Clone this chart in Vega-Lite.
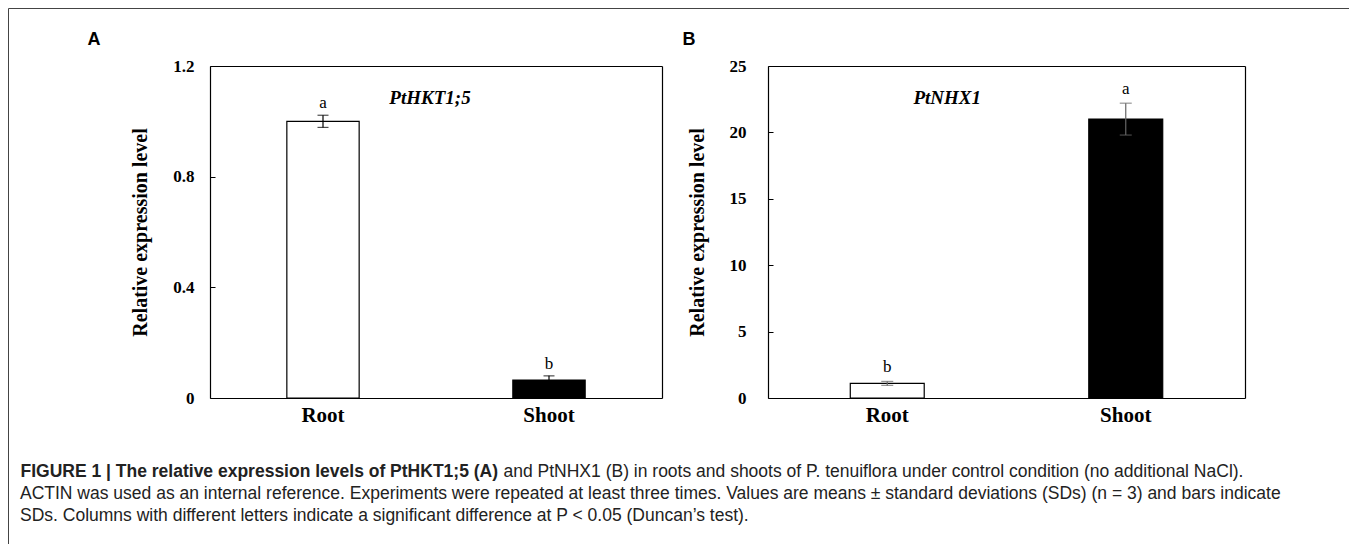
{
  "$schema": "https://vega.github.io/schema/vega-lite/v6.json",
  "padding": {"left": 8, "top": 8, "right": 0, "bottom": 0},
  "background": "white",
  "width": 1341,
  "height": 540,
  "view": {"stroke": "#444", "strokeWidth": 1},
  "title": {
    "text": [
      "ACTIN was used as an internal reference. Experiments were repeated at least three times. Values are means ± standard deviations (SDs) (n = 3) and bars indicate",
      "SDs. Columns with different letters indicate a significant difference at P < 0.05 (Duncan’s test)."
    ],
    "orient": "bottom",
    "anchor": "start",
    "frame": "group",
    "dx": 12,
    "offset": -63.5,
    "baseline": "top",
    "font": "Liberation Sans",
    "fontSize": 17.5,
    "fontWeight": "normal",
    "lineHeight": 22.5,
    "color": "#222"
  },
  "config": {
    "axis": {
      "labelFont": "Liberation Serif", "labelFontWeight": "bold", "labelColor": "black",
      "titleFont": "Liberation Serif", "titleFontWeight": "bold", "titleColor": "black",
      "domainColor": "black", "domainWidth": 1.2, "tickColor": "black", "grid": false
    }
  },
  "resolve": {"scale": {"x": "independent", "y": "independent"}, "axis": {"x": "independent", "y": "independent"}},
  "layer": [
    {
      "data": {"values": [
        {"tissue": "Root", "mean": 1.0, "sd": 0.022, "letter": "a"},
        {"tissue": "Shoot", "mean": 0.065, "sd": 0.015, "letter": "b"}
      ]},
      "encoding": {
        "x": {"field": "tissue", "type": "nominal", "sort": ["Root", "Shoot"],
          "scale": {"type": "band", "range": [202, 654], "paddingInner": 0.68, "paddingOuter": 0.34},
          "axis": {"orient": "bottom", "offset": -150, "title": null, "labelAngle": 0, "ticks": false, "labelPadding": 6, "labelFontSize": 21}}
      },
      "layer": [
        {
          "mark": {"type": "bar", "stroke": "black", "strokeWidth": 1.2},
          "encoding": {
            "y": {"field": "mean", "type": "quantitative", "title": "Relative expression level",
              "scale": {"domain": [0, 1.2], "nice": false, "range": [390, 58]},
              "axis": {"orient": "left", "offset": -202, "values": [0, 0.4, 0.8, 1.2], "format": ".1~f",
                "tickSize": -5, "labelPadding": 21, "labelFontSize": 17, "titleFontSize": 20, "titlePadding": 22}},
            "fill": {"field": "tissue", "type": "nominal", "scale": {"domain": ["Root", "Shoot"], "range": ["white", "black"]}, "legend": null}
          }
        },
        {
          "mark": {"type": "errorbar", "color": "black", "thickness": 1.2, "ticks": {"size": 11, "thickness": 1.2}},
          "encoding": {
            "y": {"field": "mean", "type": "quantitative", "title": "Relative expression level", "scale": {"domain": [0, 1.2], "nice": false, "range": [390, 58]}},
            "yError": {"field": "sd"}
          }
        },
        {
          "transform": [
            {"fold": ["mean", "sd"], "as": ["key", "val"]},
            {"aggregate": [{"op": "sum", "field": "val", "as": "top"}], "groupby": ["tissue", "letter"]}
          ],
          "mark": {"type": "text", "font": "Liberation Serif", "fontSize": 17, "baseline": "alphabetic", "dy": -7, "color": "black"},
          "encoding": {
            "y": {"field": "top", "type": "quantitative", "title": "Relative expression level", "scale": {"domain": [0, 1.2], "nice": false, "range": [390, 58]}},
            "text": {"field": "letter"}
          }
        },
        {
          "data": {"values": [{"gene": "PtHKT1;5"}]},
          "mark": {"type": "text", "font": "Liberation Serif", "fontSize": 19, "fontWeight": "bold", "fontStyle": "italic", "baseline": "middle", "dx": 107, "color": "black"},
          "encoding": {
            "x": {"datum": "Root"},
            "y": {"datum": 1.084, "title": "Relative expression level", "scale": {"domain": [0, 1.2], "nice": false, "range": [390, 58]}},
            "text": {"field": "gene"}
          }
        }
      ]
    },
    {
      "data": {"values": [{"edge": "box"}]},
      "mark": {"type": "point", "opacity": 0, "size": 0},
      "encoding": {
        "x": {"field": "edge", "type": "nominal", "scale": {"type": "band", "range": [202, 654]},
          "axis": {"orient": "top", "offset": -58, "labels": false, "ticks": false,
            "title": "A", "titleFont": "Liberation Sans", "titleFontSize": 18, "titleAlign": "left", "titleBaseline": "alphabetic", "titleX": 79, "titleY": -22}},
        "y": {"datum": 0, "type": "quantitative", "scale": {"domain": [0, 1], "range": [390, 58]},
          "axis": {"orient": "right", "offset": -687, "labels": false, "ticks": false, "values": [],
            "title": "FIGURE 1 | The relative expression levels of PtHKT1;5 (A)",
            "titleFont": "Liberation Sans", "titleFontSize": 17.5, "titleFontWeight": "bold", "titleColor": "#222",
            "titleAngle": 0, "titleAlign": "left", "titleBaseline": "top", "titleX": -642, "titleY": 454}}
      }
    },
    {
      "data": {"values": [
        {"tissue": "Root", "mean": 1.1, "sd": 0.15, "letter": "b"},
        {"tissue": "Shoot", "mean": 21.0, "sd": 1.2, "letter": "a"}
      ]},
      "encoding": {
        "x": {"field": "tissue", "type": "nominal", "sort": ["Root", "Shoot"],
          "scale": {"type": "band", "range": [760, 1237], "paddingInner": 0.69, "paddingOuter": 0.345},
          "axis": {"orient": "bottom", "offset": -150, "title": null, "labelAngle": 0, "ticks": false, "labelPadding": 6, "labelFontSize": 21}}
      },
      "layer": [
        {
          "mark": {"type": "bar", "stroke": "black", "strokeWidth": 1.2},
          "encoding": {
            "y": {"field": "mean", "type": "quantitative", "title": "Relative expression level",
              "scale": {"domain": [0, 25], "nice": false, "range": [390, 58]},
              "axis": {"orient": "left", "offset": -760, "values": [0, 5, 10, 15, 20, 25], "format": "d",
                "tickSize": -5, "labelPadding": 27, "labelFontSize": 17, "titleFontSize": 20, "titlePadding": 22}},
            "fill": {"field": "tissue", "type": "nominal", "scale": {"domain": ["Root", "Shoot"], "range": ["white", "black"]}, "legend": null}
          }
        },
        {
          "mark": {"type": "errorbar", "color": "#666", "thickness": 1.2, "ticks": {"size": 12, "thickness": 1.2}},
          "encoding": {
            "y": {"field": "mean", "type": "quantitative", "title": "Relative expression level", "scale": {"domain": [0, 25], "nice": false, "range": [390, 58]}},
            "yError": {"field": "sd"}
          }
        },
        {
          "transform": [
            {"fold": ["mean", "sd"], "as": ["key", "val"]},
            {"aggregate": [{"op": "sum", "field": "val", "as": "top"}], "groupby": ["tissue", "letter"]}
          ],
          "mark": {"type": "text", "font": "Liberation Serif", "fontSize": 17, "baseline": "alphabetic", "dy": -9, "color": "black"},
          "encoding": {
            "y": {"field": "top", "type": "quantitative", "title": "Relative expression level", "scale": {"domain": [0, 25], "nice": false, "range": [390, 58]}},
            "text": {"field": "letter"}
          }
        },
        {
          "data": {"values": [{"gene": "PtNHX1"}]},
          "mark": {"type": "text", "font": "Liberation Serif", "fontSize": 19, "fontWeight": "bold", "fontStyle": "italic", "baseline": "middle", "dx": 60, "color": "black"},
          "encoding": {
            "x": {"datum": "Root"},
            "y": {"datum": 22.6, "title": "Relative expression level", "scale": {"domain": [0, 25], "nice": false, "range": [390, 58]}},
            "text": {"field": "gene"}
          }
        }
      ]
    },
    {
      "data": {"values": [{"edge": "box"}]},
      "mark": {"type": "point", "opacity": 0, "size": 0},
      "encoding": {
        "x": {"field": "edge", "type": "nominal", "scale": {"type": "band", "range": [760, 1237]},
          "axis": {"orient": "top", "offset": -58, "labels": false, "ticks": false,
            "title": "B", "titleFont": "Liberation Sans", "titleFontSize": 18, "titleAlign": "left", "titleBaseline": "alphabetic", "titleX": 674, "titleY": -22}},
        "y": {"datum": 0, "type": "quantitative", "scale": {"domain": [0, 1], "range": [390, 58]},
          "axis": {"orient": "right", "offset": -104, "labels": false, "ticks": false, "values": [],
            "title": "and PtNHX1 (B) in roots and shoots of P. tenuiflora under control condition (no additional NaCl).",
            "titleFont": "Liberation Sans", "titleFontSize": 17.5, "titleFontWeight": "normal", "titleColor": "#222",
            "titleAngle": 0, "titleAlign": "left", "titleBaseline": "top", "titleX": -742, "titleY": 454}}
      }
    }
  ]
}
